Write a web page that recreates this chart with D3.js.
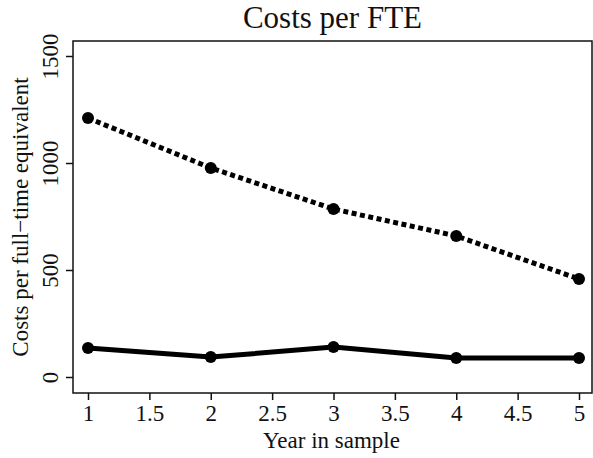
<!DOCTYPE html>
<html>
<head>
<meta charset="utf-8">
<script src="https://cdn.jsdelivr.net/npm/d3@7"></script>
<style>
  body { margin: 0; background: #fff; }
  text { font-family: "Liberation Serif", "DejaVu Serif", serif; fill: #111; }
</style>
</head>
<body>
<script>
var years = [1, 2, 3, 4, 5];
var upperCosts = [1210, 977, 785, 659, 458];
var lowerCosts = [135, 93, 140, 89, 89];
var xTicks = [1, 1.5, 2, 2.5, 3, 3.5, 4, 4.5, 5];
var yTicks = [0, 500, 1000, 1500];

var width = 593, height = 458;
var box = {left: 73, top: 41, right: 592, bottom: 393};

var svg = d3.select("body").append("svg")
  .attr("width", width)
  .attr("height", height);

// pixel positions of the ticks
var xScale = d3.scaleLinear().domain([1, 5]).range([88, 579]);
var yScale = d3.scaleLinear().domain([0, 1500]).range([377, 56]);

svg.append("rect")
  .attr("x", box.left).attr("y", box.top)
  .attr("width", box.right - box.left).attr("height", box.bottom - box.top)
  .attr("fill", "none").attr("stroke", "#111").attr("stroke-width", 1.5);

var xAxis = d3.axisBottom(xScale).tickValues(xTicks).tickSize(7).tickPadding(5)
  .tickFormat(function(d){ return d; });
var gx = svg.append("g").attr("transform", "translate(0," + box.bottom + ")").call(xAxis);
gx.select(".domain").remove();
gx.selectAll("line").attr("stroke", "#111").attr("stroke-width", 1.5);
gx.selectAll("text").attr("font-size", 23);

var yAxis = d3.axisLeft(yScale).tickValues(yTicks).tickSize(7).tickFormat(function(d){ return d; });
var gy = svg.append("g").attr("transform", "translate(" + box.left + ",0)").call(yAxis);
gy.select(".domain").remove();
gy.selectAll("line").attr("stroke", "#111").attr("stroke-width", 1.5);
gy.selectAll("text")
  .attr("font-size", 23)
  .attr("x", 0).attr("y", 0).attr("dy", 0)
  .attr("text-anchor", "middle")
  .attr("transform", "translate(-15,0) rotate(-90)");

svg.append("text")
  .attr("x", (box.left + box.right) / 2)
  .attr("y", 28)
  .attr("text-anchor", "middle")
  .attr("font-size", 31)
  .text("Costs per FTE");

svg.append("text")
  .attr("x", (box.left + box.right) / 2 - 1)
  .attr("y", 448)
  .attr("text-anchor", "middle")
  .attr("font-size", 23)
  .text("Year in sample");

svg.append("text")
  .attr("transform", "translate(28," + ((box.top + box.bottom) / 2) + ") rotate(-90)")
  .attr("text-anchor", "middle")
  .attr("font-size", 23)
  .text("Costs per full\u2212time equivalent");

var line = d3.line()
  .x(function(d, i){ return xScale(years[i]); })
  .y(function(d){ return yScale(d); });

svg.append("path")
  .datum(upperCosts)
  .attr("d", line)
  .attr("fill", "none")
  .attr("stroke", "#000")
  .attr("stroke-width", 5)
  .attr("stroke-dasharray", "5,3.5");

svg.append("path")
  .datum(lowerCosts)
  .attr("d", line)
  .attr("fill", "none")
  .attr("stroke", "#000")
  .attr("stroke-width", 5)
  .attr("stroke-linejoin", "round");

[upperCosts, lowerCosts].forEach(function(series){
  svg.append("g").selectAll("circle")
    .data(series)
    .enter()
    .append("circle")
    .attr("cx", function(d, i){ return xScale(years[i]); })
    .attr("cy", function(d){ return yScale(d); })
    .attr("r", 6)
    .attr("fill", "#000");
});
</script>
</body>
</html>
